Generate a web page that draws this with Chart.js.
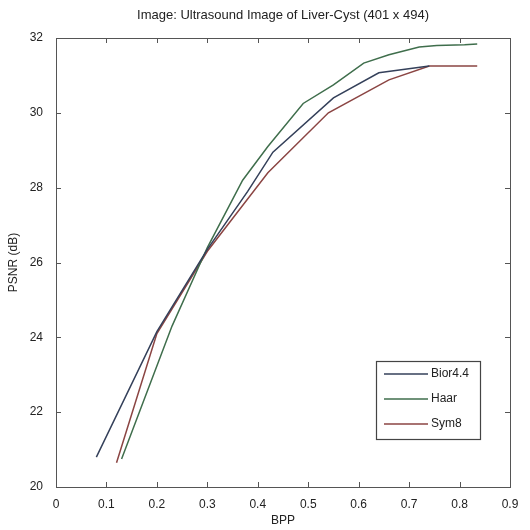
<!DOCTYPE html>
<html>
<head>
<meta charset="utf-8">
<script src="https://cdn.jsdelivr.net/npm/chart.js@4.4.1/dist/chart.umd.min.js"></script>
<style>
html,body{margin:0;padding:0;background:#fff;}
#wrap{width:530px;height:530px;}
</style>
</head>
<body>
<div id="wrap"><canvas id="c" width="530" height="530"></canvas></div>
<script>
const chartTitle = 'Image: Ultrasound Image of Liver-Cyst (401 x 494)';
const xTitle = 'BPP';
const yTitle = 'PSNR (dB)';
const seriesNames = ['Bior4.4', 'Haar', 'Sym8'];
const seriesColors = ['#34405a', '#3f6e4c', '#8b4543'];

const biorX = [0.08, 0.2, 0.3, 0.38, 0.43, 0.55, 0.64, 0.74];
const biorY = [20.8, 24.15, 26.35, 27.9, 28.95, 30.4, 31.07, 31.25];

const haarX = [0.13, 0.23, 0.3, 0.37, 0.42, 0.49, 0.55, 0.61, 0.66, 0.72, 0.755, 0.81, 0.835];
const haarY = [20.75, 24.3, 26.4, 28.2, 29.1, 30.25, 30.75, 31.33, 31.55, 31.76, 31.8, 31.82, 31.84];

const symX = [0.12, 0.2, 0.3, 0.42, 0.54, 0.66, 0.74, 0.835];
const symY = [20.65, 24.1, 26.3, 28.4, 30.0, 30.88, 31.25, 31.25];

const xTickLabels = ['0', '0.1', '0.2', '0.3', '0.4', '0.5', '0.6', '0.7', '0.8', '0.9'];
const yTickLabels = ['20', '22', '24', '26', '28', '30', '32'];

const FONT = "'Liberation Sans Narrow', 'Liberation Sans', Arial, sans-serif";

function pts(xs, ys){ return xs.map((x,i)=>({x:x, y:ys[i]})); }

const boxPlugin = {
  id: 'boxTicks',
  afterDatasetsDraw(chart){
    const {ctx, chartArea:a, scales} = chart;
    ctx.save();
    // title centred over the plot box
    ctx.font = '13px ' + FONT;
    ctx.fillStyle = '#222';
    ctx.textAlign = 'center';
    ctx.textBaseline = 'middle';
    ctx.fillText(chartTitle, (a.left + a.right) / 2, 15);

    ctx.strokeStyle = '#555';
    ctx.lineWidth = 1;
    ctx.strokeRect(a.left+0.5, a.top+0.5, a.right-a.left, a.bottom-a.top);
    const L = 5;
    ctx.beginPath();
    scales.x.ticks.forEach(t=>{
      const px = Math.round(scales.x.getPixelForValue(t.value))+0.5;
      ctx.moveTo(px, a.bottom); ctx.lineTo(px, a.bottom-L);
      ctx.moveTo(px, a.top); ctx.lineTo(px, a.top+L);
    });
    scales.y.ticks.forEach(t=>{
      const py = Math.round(scales.y.getPixelForValue(t.value))+0.5;
      ctx.moveTo(a.left, py); ctx.lineTo(a.left+L, py);
      ctx.moveTo(a.right, py); ctx.lineTo(a.right-L, py);
    });
    ctx.stroke();

    // legend box
    const bx = 376, by = 361, bw = 104, bh = 78;
    ctx.fillStyle = '#fff';
    ctx.fillRect(bx, by, bw, bh);
    ctx.strokeStyle = '#444';
    ctx.lineWidth = 1.2;
    ctx.strokeRect(bx+0.5, by+0.5, bw, bh);
    ctx.font = '12px ' + FONT;
    ctx.textBaseline = 'middle';
    ctx.textAlign = 'left';
    chart.data.datasets.forEach((ds, i)=>{
      const yy = by + 13 + i*25;
      ctx.strokeStyle = ds.borderColor;
      ctx.lineWidth = 1.5;
      ctx.beginPath();
      ctx.moveTo(bx+8, yy); ctx.lineTo(bx+52, yy);
      ctx.stroke();
      ctx.fillStyle = '#222';
      ctx.fillText(ds.label, bx+55, yy);
    });
    ctx.restore();
  }
};

new Chart(document.getElementById('c'), {
  type: 'line',
  data: {
    datasets: [
      {label: seriesNames[0], data: pts(biorX, biorY), borderColor: seriesColors[0]},
      {label: seriesNames[1], data: pts(haarX, haarY), borderColor: seriesColors[1]},
      {label: seriesNames[2], data: pts(symX, symY), borderColor: seriesColors[2]}
    ].map(d=>Object.assign(d, {borderWidth:1.5, pointRadius:0, tension:0, fill:false}))
  },
  options: {
    responsive: false,
    animation: false,
    layout: {padding: {left: 0, right: 20, top: 38, bottom: 0}},
    plugins: {
      legend: {display: false},
      tooltip: {enabled: false},
      title: {display: false}
    },
    scales: {
      x: {
        type: 'linear', min: 0, max: 0.9,
        afterFit: s => { s.height = 43; },
        ticks: {stepSize: 0.1, color: '#222', padding: 2,
          font: {family: FONT, size: 12},
          callback: (v, i) => xTickLabels[i]},
        grid: {display: false},
        border: {display: false},
        title: {display: true, text: xTitle, color: '#222', padding: {top: 0, bottom: 2},
          font: {family: FONT, size: 12}}
      },
      y: {
        type: 'linear', min: 20, max: 32,
        afterFit: s => { s.width = 56; },
        ticks: {stepSize: 2, color: '#222', padding: 5,
          font: {family: FONT, size: 12},
          callback: (v, i) => yTickLabels[i]},
        grid: {display: false},
        border: {display: false},
        title: {display: true, text: yTitle, color: '#222', padding: {top: 6, bottom: 0},
          font: {family: FONT, size: 12}}
      }
    }
  },
  plugins: [boxPlugin]
});
</script>
</body>
</html>
